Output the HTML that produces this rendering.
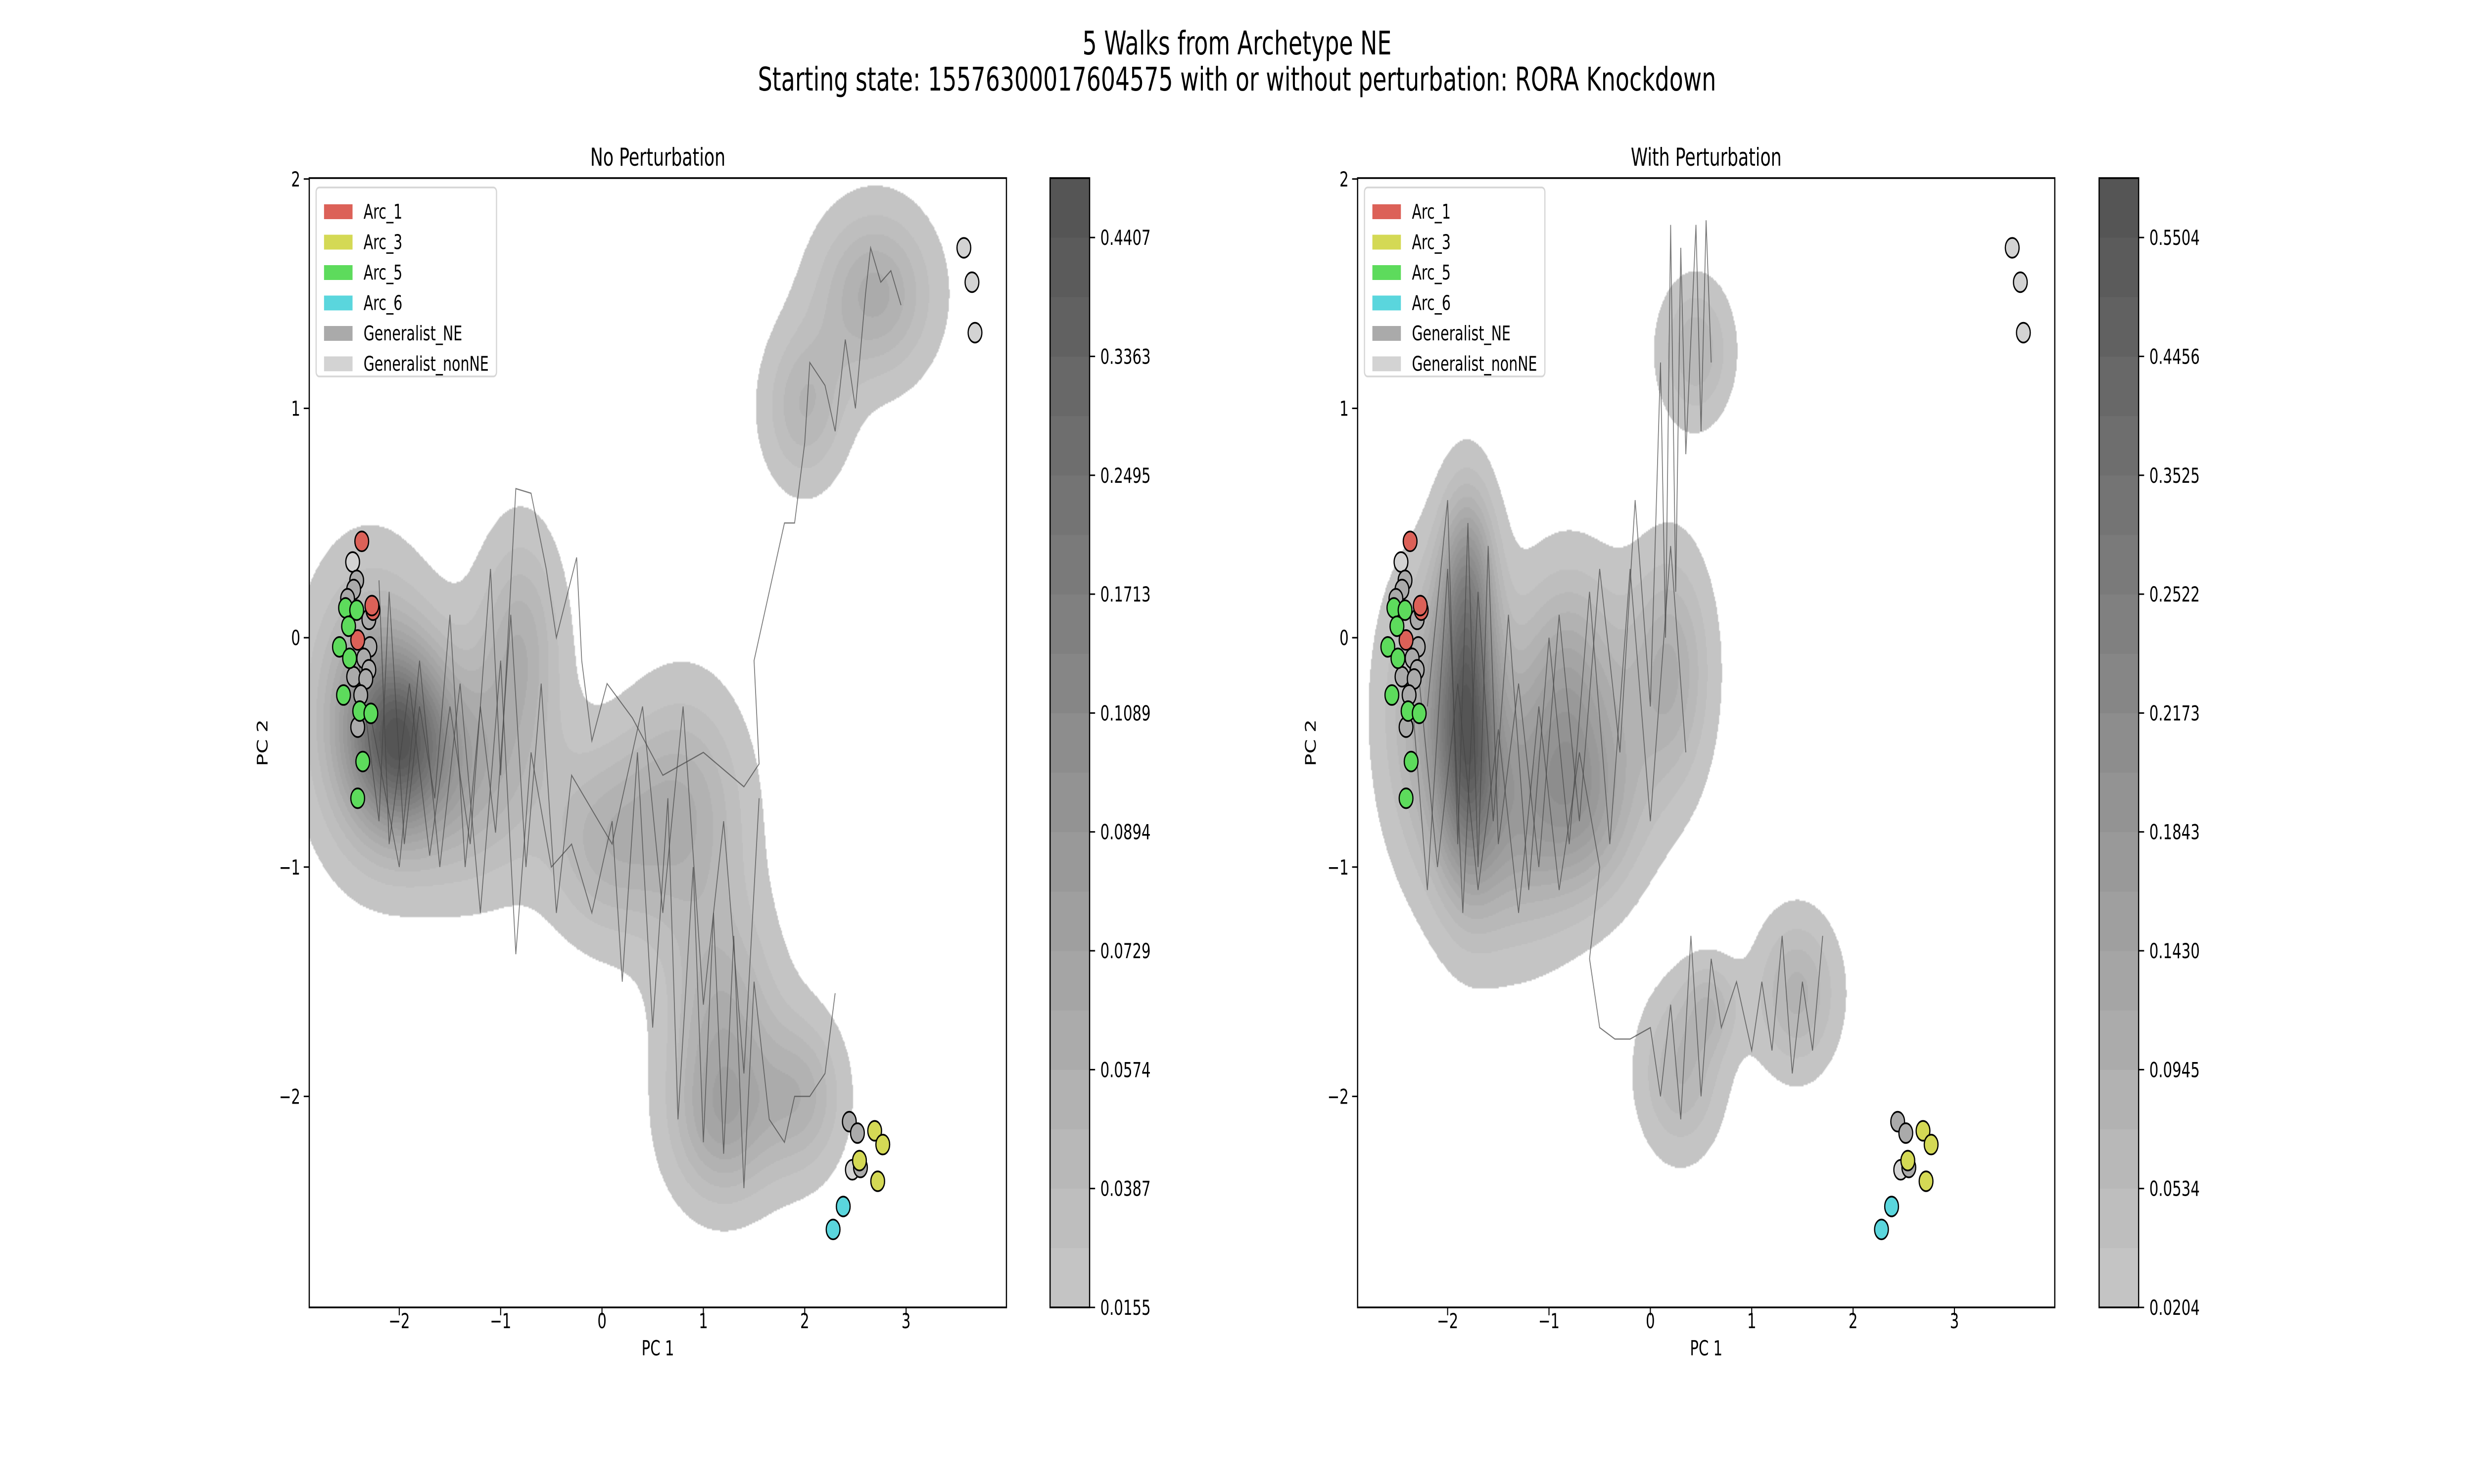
<!DOCTYPE html>
<html><head><meta charset="utf-8">
<style>
html,body{margin:0;padding:0;background:#fff;overflow:hidden;}
#wrap{position:absolute;left:0;top:0;width:7200px;height:3000px;overflow:hidden;font-family:"DejaVu Sans","Liberation Sans",sans-serif;transform-origin:0 0;}
canvas{position:absolute;}
svg{position:absolute;left:0;top:0;}
</style></head>
<body>
<div id="wrap">
<canvas id="dl" width="2029" height="2283" style="left:900px;top:360px"></canvas>
<canvas id="dr" width="2029" height="2283" style="left:3951px;top:360px"></canvas>
<svg id="svg" width="7200" height="3000" viewBox="0 0 7200 3000" xmlns="http://www.w3.org/2000/svg"></svg>
</div>
<script>
// ---- data ----
const xTicks=[-2,-1,0,1,2,3];
const yTicks=[-2,-1,0,1,2];
const cbLabelsL=["0.0155","0.0387","0.0574","0.0729","0.0894","0.1089","0.1713","0.2495","0.3363","0.4407"];
const cbLabelsR=["0.0204","0.0534","0.0945","0.1430","0.1843","0.2173","0.2522","0.3525","0.4456","0.5504"];
// density components: [cx, cy, sx, sy, weight]
const kdeL=[[-2.0,-0.45,0.35,0.28,1.0],[-2.3,-0.3,0.45,0.45,0.55],[-1.3,-0.6,0.5,0.35,0.5],[-0.8,0.0,0.3,0.35,0.45],[0.0,-0.9,0.4,0.3,0.4],
 [0.8,-0.75,0.45,0.38,0.5],[1.2,-1.7,0.4,0.38,0.5],[1.2,-2.15,0.38,0.25,0.4],[2.0,-2.0,0.3,0.25,0.42],[2.7,1.5,0.42,0.27,0.55],[2.0,1.0,0.3,0.25,0.42]];
const kdeR=[[-1.8,-0.35,0.22,0.45,1.0],[-1.8,0.3,0.2,0.3,0.5],[-2.2,-0.3,0.35,0.45,0.45],[-1.4,-0.8,0.5,0.4,0.55],[-0.8,-0.2,0.4,0.38,0.55],
 [-0.6,-0.75,0.4,0.3,0.45],[0.2,-0.15,0.3,0.38,0.5],[0.45,1.25,0.26,0.22,0.42],[0.3,-1.9,0.3,0.26,0.42],[0.6,-1.6,0.2,0.15,0.3],[1.45,-1.55,0.3,0.25,0.45]];
// points: [x, y, category]
const pts=[[-2.46,0.33,"nonNE"],[-2.42,0.25,"NE"],[-2.45,0.21,"NE"],[-2.51,0.17,"NE"],[-2.3,0.08,"NE"],[-2.29,-0.04,"NE"],[-2.35,-0.09,"NE"],
 [-2.3,-0.14,"NE"],[-2.45,-0.17,"NE"],[-2.33,-0.18,"NE"],[-2.38,-0.25,"NE"],[-2.41,-0.39,"NE"],
 [-2.37,0.42,"Arc_1"],[-2.26,0.12,"Arc_1"],[-2.27,0.14,"Arc_1"],[-2.41,-0.01,"Arc_1"],
 [-2.53,0.13,"Arc_5"],[-2.42,0.12,"Arc_5"],[-2.5,0.05,"Arc_5"],[-2.59,-0.04,"Arc_5"],[-2.49,-0.09,"Arc_5"],[-2.55,-0.25,"Arc_5"],
 [-2.39,-0.32,"Arc_5"],[-2.28,-0.33,"Arc_5"],[-2.36,-0.54,"Arc_5"],[-2.41,-0.70,"Arc_5"],
 [2.44,-2.11,"NE"],[2.52,-2.16,"NE"],[2.47,-2.32,"nonNE"],[2.55,-2.31,"NE"],
 [2.69,-2.15,"Arc_3"],[2.77,-2.21,"Arc_3"],[2.54,-2.28,"Arc_3"],[2.72,-2.37,"Arc_3"],
 [2.38,-2.48,"Arc_6"],[2.28,-2.58,"Arc_6"],[3.57,1.70,"nonNE"],[3.65,1.55,"nonNE"],[3.68,1.33,"nonNE"]];
const legendNames=["Arc_1","Arc_3","Arc_5","Arc_6","Generalist_NE","Generalist_nonNE"];
const walksL=[
 [[-2.2,0.25],[-2.1,-0.9],[-1.9,-0.2],[-1.7,-0.95],[-1.5,-0.3],[-1.3,-0.9],[-1.1,0.3],[-1.0,-0.6],[-0.85,0.65],[-0.7,0.63],[-0.55,0.3],[-0.45,0.0],[-0.25,0.35],[-0.2,-0.1],[-0.1,-0.45],[0.05,-0.2],[0.3,-0.35],[0.6,-0.6],[1.0,-0.5],[1.4,-0.65],[1.55,-0.55],[1.5,-0.1],[1.65,0.2],[1.8,0.5],[1.9,0.5],[2.0,0.85],[2.05,1.2],[2.2,1.1],[2.3,0.9],[2.4,1.3],[2.5,1.0],[2.6,1.5],[2.65,1.7],[2.75,1.55],[2.85,1.6],[2.95,1.45]],
 [[-2.3,-0.3],[-2.0,-1.0],[-1.8,-0.1],[-1.6,-1.0],[-1.4,-0.2],[-1.2,-1.2],[-1.0,-0.1],[-0.85,-1.38],[-0.7,-0.5],[-0.5,-1.0],[-0.3,-0.9],[-0.1,-1.2],[0.1,-0.8],[0.2,-1.5],[0.35,-0.5],[0.5,-1.7],[0.65,-0.7],[0.75,-2.1],[0.9,-1.0],[1.0,-2.2],[1.1,-1.2],[1.2,-2.25],[1.3,-1.3],[1.4,-2.4],[1.5,-1.5],[1.65,-2.1],[1.8,-2.2],[1.9,-2.0],[2.05,-2.0],[2.2,-1.9],[2.3,-1.55]],
 [[-2.4,-0.1],[-2.2,-0.8],[-2.1,0.2],[-1.95,-0.9],[-1.8,-0.3],[-1.65,-0.7],[-1.5,0.1],[-1.35,-1.0],[-1.2,-0.3],[-1.05,-0.85],[-0.9,0.1],[-0.75,-1.0],[-0.6,-0.2],[-0.45,-1.2],[-0.3,-0.6],[0.1,-0.9],[0.4,-0.3],[0.6,-1.2],[0.8,-0.3],[1.0,-1.6],[1.2,-0.8],[1.4,-1.9],[1.55,-0.7]]];
const walksR=[
 [[-2.2,-0.3],[-2.0,0.6],[-1.9,-0.9],[-1.8,0.5],[-1.7,-1.0],[-1.6,0.4],[-1.5,-0.9],[-1.3,-0.2],[-1.1,-1.0],[-0.9,0.1],[-0.7,-0.8],[-0.5,0.3],[-0.3,-0.5],[-0.15,0.6],[0.0,-0.3],[0.1,1.2],[0.15,0.0],[0.2,1.8],[0.25,0.2],[0.3,1.7],[0.35,0.8],[0.45,1.8],[0.5,0.9],[0.55,1.82],[0.6,1.2]],
 [[-2.3,-0.1],[-2.1,-1.0],[-1.9,-0.2],[-1.7,-1.1],[-1.5,-0.4],[-1.3,-1.2],[-1.1,-0.3],[-0.9,-1.1],[-0.7,-0.5],[-0.5,-1.0],[-0.6,-1.4],[-0.5,-1.7],[-0.35,-1.75],[-0.2,-1.75],[0.0,-1.7],[0.1,-2.0],[0.2,-1.6],[0.3,-2.1],[0.4,-1.3],[0.5,-2.0],[0.6,-1.4],[0.7,-1.7],[0.85,-1.5],[1.0,-1.8],[1.1,-1.5],[1.2,-1.8],[1.3,-1.3],[1.4,-1.9],[1.5,-1.5],[1.6,-1.8],[1.7,-1.3]],
 [[-2.4,0.0],[-2.2,-1.1],[-2.0,0.3],[-1.85,-1.2],[-1.7,0.2],[-1.55,-0.8],[-1.4,0.1],[-1.2,-1.1],[-1.0,0.0],[-0.8,-0.9],[-0.6,0.2],[-0.4,-0.9],[-0.2,0.3],[0.0,-0.8],[0.2,0.4],[0.35,-0.5]]];

// ---- fit to viewport (stretch to fill exactly) ----
(function(){const w=document.getElementById('wrap');
  const sxv=window.innerWidth/7200, syv=window.innerHeight/3000;
  if(sxv>0&&syv>0&&(Math.abs(sxv-1)>0.001||Math.abs(syv-1)>0.001)){w.style.transform='scale('+sxv+','+syv+')';}})();

// ---- layout ----
const colors={"Arc_1":"#dc6158","Arc_3":"#d4d955","Arc_5":"#5ddb5c","Arc_6":"#5ad6dd","NE":"#aaaaaa","nonNE":"#d3d3d3","Generalist_NE":"#aaaaaa","Generalist_nonNE":"#d3d3d3"};
const panels=[{L:900,R:2929,cb:3056,title:"No Perturbation",kde:kdeL,walks:walksL,cbl:cbLabelsL,cv:"dl",key:"left"},
              {L:3951,R:5980,cb:6109,title:"With Perturbation",kde:kdeR,walks:walksR,cbl:cbLabelsR,cv:"dr",key:"right"}];
const T=360,B=2643,XMIN=-2.888,XMAX=3.99,YMIN=-2.92,YMAX=2.004;
const NS="http://www.w3.org/2000/svg";
const svg=document.getElementById('svg');
function el(tag,attrs,parent,text){const e=document.createElementNS(NS,tag);for(const k in attrs)e.setAttribute(k,attrs[k]);if(text!==undefined)e.textContent=text;(parent||svg).appendChild(e);return e;}

let t1=el('text',{x:3600,y:110,'text-anchor':'middle','font-size':66});
t1.textContent="5 Walks from Archetype NE";


let t2=el('text',{x:3600,y:183,'text-anchor':'middle','font-size':66});
t2.textContent="Starting state: 15576300017604575  with or without perturbation: RORA Knockdown";



const NB=19;
function gray(k){const v=Math.round(196-k*(196-85)/(NB-1));return [v,v,v];}

panels.forEach(p=>{
  const W=p.R-p.L,H=B-T;
  const sx=x=>p.L+(x-XMIN)/(XMAX-XMIN)*W;
  const sy=y=>B-(y-YMIN)/(YMAX-YMIN)*H;
  const cv=document.getElementById(p.cv),ctx=cv.getContext('2d');
  const st=3,gw=Math.ceil(W/st),gh=Math.ceil(H/st);
  const d=new Float32Array(gw*gh);let mx=0;
  for(let j=0;j<gh;j++){const y=YMAX-(j*st+1.5)/H*(YMAX-YMIN);
    for(let i=0;i<gw;i++){const x=XMIN+(i*st+1.5)/W*(XMAX-XMIN);let s=0;
      for(const c of p.kde){const dx=(x-c[0])/c[2],dy=(y-c[1])/c[3];s+=c[4]*Math.exp(-0.5*(dx*dx+dy*dy));}
      d[j*gw+i]=s;if(s>mx)mx=s;}}
  const t0=0.12;
  const img=ctx.createImageData(gw,gh);
  for(let q=0;q<gw*gh;q++){const s=d[q];if(s<t0){img.data[q*4+3]=0;continue;}
    let k=Math.floor(NB*Math.pow((s-t0)/(mx-t0),1.2));if(k>NB-1)k=NB-1;const g=gray(k);
    img.data[q*4]=g[0];img.data[q*4+1]=g[1];img.data[q*4+2]=g[2];img.data[q*4+3]=255;}
  const tmp=document.createElement('canvas');tmp.width=gw;tmp.height=gh;tmp.getContext('2d').putImageData(img,0,0);
  ctx.imageSmoothingEnabled=true;ctx.drawImage(tmp,0,0,W,H);

  const g=el('g',{});
  
  
  p.walks.forEach((w,wi)=>{
    const pl=el('polyline',{points:w.map(a=>sx(a[0]).toFixed(1)+','+sy(a[1]).toFixed(1)).join(' '),fill:'none',stroke:'#444','stroke-width':2.5,'stroke-opacity':0.7},g);
    
    
  });
  pts.forEach(a=>{
    const c=el('circle',{cx:sx(a[0]),cy:sy(a[1]),r:20,fill:colors[a[2]],stroke:'#000','stroke-width':3.5},g);
    
    
  });
  const fr=el('rect',{x:p.L,y:T,width:W,height:H,fill:'none',stroke:'#000','stroke-width':3.5},g);
  
  
  xTicks.forEach(v=>{const X=sx(v);el('line',{x1:X,x2:X,y1:B,y2:B+16,stroke:'#000','stroke-width':3},g);
    const tl=el('text',{x:X,y:2685,'text-anchor':'middle','font-size':42},g,v<0?'\u2212'+(-v):String(v));
    
    });
  yTicks.forEach(v=>{const Y=sy(v);el('line',{x1:p.L-16,x2:p.L,y1:Y,y2:Y,stroke:'#000','stroke-width':3},g);
    const tl=el('text',{x:p.L-26,y:Y+15,'text-anchor':'end','font-size':42},g,v<0?'\u2212'+(-v):String(v));
    
    });
  const xl=el('text',{x:(p.L+p.R)/2,y:2740,'text-anchor':'middle','font-size':42},g,'PC 1');
  
  
  const yl=el('text',{x:0,y:0,'text-anchor':'middle','font-size':42,transform:`translate(${p.L-122},${(T+B)/2}) rotate(-90)`},g,'PC 2');
  
  
  const tt=el('text',{x:(p.L+p.R)/2,y:335,'text-anchor':'middle','font-size':50},g,p.title);
  
  
  const lg=el('g',{},g);
  
  
  el('rect',{x:p.L+20,y:T+19,width:525,height:382,rx:9,fill:'#fff','fill-opacity':0.85,stroke:'#d6d6d6','stroke-width':3.5},lg);
  legendNames.forEach((n,i)=>{const Y=T+54+i*61.5;
    el('rect',{x:p.L+43,y:Y-1,width:83,height:30,fill:colors[n]},lg);
    const lt=el('text',{x:p.L+158,y:Y+28,'font-size':41},lg,n);
    
    });
  const cg=el('g',{});
  
  
  const bh=(B-T)/NB;
  for(let k=0;k<NB;k++){const c=gray(k);el('rect',{x:p.cb,y:B-(k+1)*bh,width:115,height:bh+0.5,fill:`rgb(${c})`},cg);}
  el('rect',{x:p.cb,y:T,width:115,height:B-T,fill:'none',stroke:'#000','stroke-width':3.5},cg);
  p.cbl.forEach((lab,i)=>{const Y=B-i*2*bh;
    el('line',{x1:p.cb+115,x2:p.cb+131,y1:Y,y2:Y,stroke:'#000','stroke-width':3},cg);
    const ct=el('text',{x:p.cb+146,y:Y+15,'font-size':42},cg,lab);
    
    });
});
</script>
</body></html>
